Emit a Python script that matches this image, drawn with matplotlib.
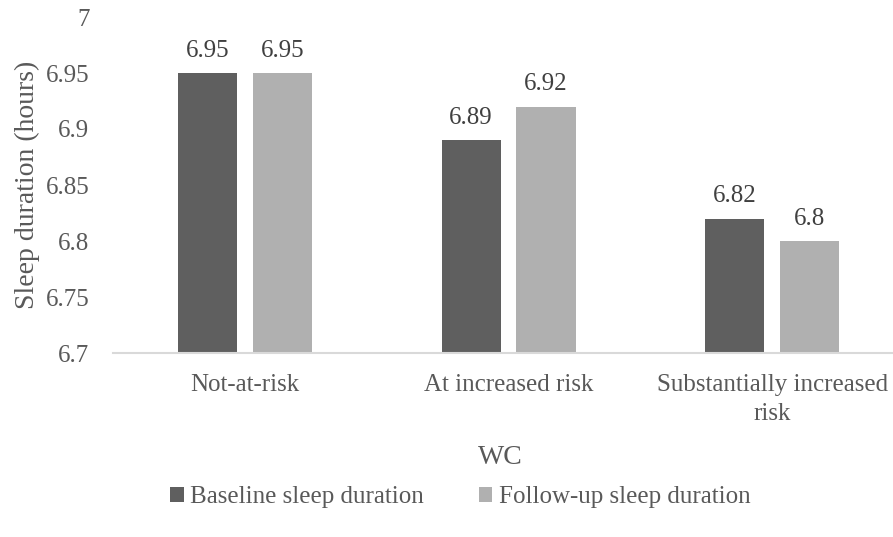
import matplotlib
matplotlib.use("Agg")
import matplotlib.pyplot as plt
import numpy as np

categories = ["Not-at-risk", "At increased risk", "Substantially increased\nrisk"]
baseline = [6.95, 6.89, 6.82]
follow_up = [6.95, 6.92, 6.80]
series_names = ["Baseline sleep duration", "Follow-up sleep duration"]
y_ticks = [6.7, 6.75, 6.8, 6.85, 6.9, 6.95, 7]
y_tick_labels = ["6.7", "6.75", "6.8", "6.85", "6.9", "6.95", "7"]

plt.rcParams["font.family"] = ["Liberation Serif", "DejaVu Serif"]
text_color = "#595959"
dark = "#5f5f5f"
light = "#b0b0b0"

fig = plt.figure(figsize=(8.93, 5.37), dpi=100)
W, H = 893, 537
left, right, top, bottom = 113, 893, 17, 353
ax = fig.add_axes([left / W, 1 - bottom / H, (right - left) / W, (bottom - top) / H])

x = np.arange(len(categories))
bw = 0.224
off = 0.142
b1 = ax.bar(x - off, baseline, bw, color=dark, label=series_names[0], zorder=2)
b2 = ax.bar(x + off, follow_up, bw, color=light, label=series_names[1], zorder=2)

for bars, vals in ((b1, baseline), (b2, follow_up)):
    for rect, v in zip(bars, vals):
        ax.annotate(f"{v:g}", (rect.get_x() + rect.get_width() / 2, v),
                    xytext=(0, 8), textcoords="offset points",
                    ha="center", va="bottom", fontsize=18, color="#404040")

ax.set_ylim(6.7, 7.0)
ax.set_xlim(-0.5, 2.458)
ax.set_yticks(y_ticks)
ax.set_yticklabels(y_tick_labels)
ax.set_xticks(x)
ax.set_xticklabels(categories, linespacing=1.45)
ax.tick_params(axis="both", length=0, labelsize=18, labelcolor=text_color)
ax.tick_params(axis="x", pad=15)
ax.tick_params(axis="y", pad=17)
for s in ("top", "right", "left"):
    ax.spines[s].set_visible(False)
ax.spines["bottom"].set_color("#d9d9d9")
ax.spines["bottom"].set_linewidth(1.5)

ax.set_ylabel("Sleep duration (hours)", fontsize=20, color=text_color, labelpad=4)
fig.text(500 / W, 1 - 458 / H, "WC", ha="center", va="center", fontsize=20, color=text_color)

fig.legend(handles=[b1, b2], labels=series_names, loc="center",
           bbox_to_anchor=(460 / W, 1 - 497 / H), ncol=2, frameon=False,
           fontsize=18, handlelength=0.55, handleheight=0.55, handletextpad=0.25,
           columnspacing=2.2, labelcolor=text_color)

fig.savefig("out.png", dpi=100)
